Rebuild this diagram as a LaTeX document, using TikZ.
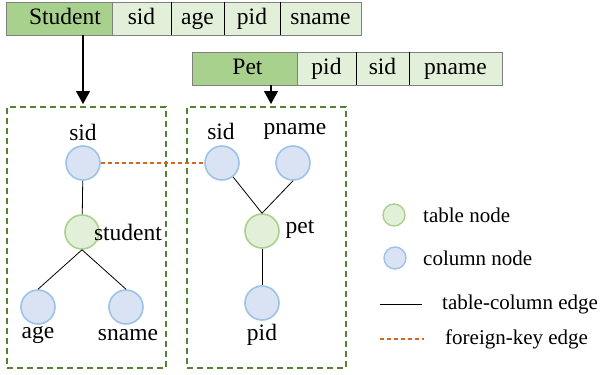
\documentclass[tikz,border=0pt]{standalone}
\usepackage{fontspec}
\setmainfont{Liberation Serif}
\usetikzlibrary{arrows.meta}
\definecolor{tdark}{HTML}{A9D18E}
\definecolor{tlight}{HTML}{E2F0D9}
\definecolor{cellborder}{HTML}{808080}
\definecolor{colborder}{HTML}{9DC3E6}
\definecolor{colfill}{HTML}{DAE3F3}
\definecolor{boxgreen}{HTML}{548235}
\definecolor{fkcol}{HTML}{D2691E}
\tikzset{
  tcell/.style={draw=cellborder, line width=0.8pt, minimum height=33pt, inner sep=0pt, text height=16pt, text depth=5pt, font=\fontsize{23.5}{28}\selectfont},
  darkcell/.style={tcell, fill=tdark},
  lightcell/.style={tcell, fill=tlight},
  colnode/.style={circle, draw=colborder, fill=colfill, line width=1.6pt, minimum size=34pt, inner sep=0pt},
  tabnode/.style={circle, draw=tdark, fill=tlight, line width=1.6pt, minimum size=34pt, inner sep=0pt},
  lcol/.style={colnode, minimum size=22pt, line width=1.4pt},
  ltab/.style={tabnode, minimum size=22pt, line width=1.4pt},
  grp/.style={draw=boxgreen, line width=1.2pt, dash pattern=on 6pt off 4pt, minimum width=159pt, minimum height=261pt, inner sep=0pt},
  fkedge/.style={draw=fkcol, line width=1.1pt, dash pattern=on 4pt off 3pt},
  tcedge/.style={draw=black, line width=0.8pt},
  arr/.style={draw=black, line width=1.2pt, -{Triangle[length=13pt, width=14pt]}},
  lbl/.style={font=\fontsize{23.5}{28}\selectfont, inner sep=0pt},
  leg/.style={font=\fontsize{21}{25}\selectfont, inner sep=0pt, anchor=west},
  divider/.style={draw=black, line width=0.9pt}
}
\begin{document}
\begin{tikzpicture}[x=1pt,y=-1pt]
\useasboundingbox (0,0) rectangle (600,375);
% Student table
\node[darkcell, minimum width=106pt] (tstu) at (59,18.5) {\hspace*{12pt}Student};
\node[lightcell, minimum width=59pt] (tsid) at (141.5,18.5) {sid};
\node[lightcell, minimum width=53pt] (tage) at (197.5,18.5) {age};
\node[lightcell, minimum width=56pt] (tpid) at (252,18.5) {pid};
\node[lightcell, minimum width=81pt] (tsname) at (320.5,18.5) {sname};
\draw[divider] (tsid.north east) -- (tsid.south east);
\draw[divider] (tage.north east) -- (tage.south east);
\draw[divider] (tpid.north east) -- (tpid.south east);
% Pet table
\node[darkcell, minimum width=105pt] (tpet) at (244.5,68.5) {\hspace*{6pt}Pet};
\node[lightcell, minimum width=59pt] (ppid) at (326.5,68.5) {pid};
\node[lightcell, minimum width=53pt] (psid) at (382.5,68.5) {sid};
\node[lightcell, minimum width=93pt] (ppname) at (455.5,68.5) {pname};
\draw[divider] (ppid.north east) -- (ppid.south east);
\draw[divider] (psid.north east) -- (psid.south east);
% group boxes
\node[grp] (lbox) at (86.5,237.5) {};
\node[grp] (rbox) at (266.5,237.5) {};
% arrows
\coordinate (a1s) at (83,35);
\coordinate (a1e) at (83,104);
\coordinate (a2s) at (271,85);
\coordinate (a2e) at (271,104);
\draw[arr] (a1s) -- (a1e);
\draw[arr] (a2s) -- (a2e);
% student graph
\node[colnode] (s1) at (83,163) {};
\node[tabnode] (stu) at (82,232) {};
\node[colnode] (age) at (38,307) {};
\node[colnode] (sname) at (126,307) {};
\node[lbl] (ls1) at (83,132) {sid};
\node[lbl] (lstu) at (128,232) {student};
\node[lbl] (lage) at (38,335) {age};
\node[lbl] (lsname) at (128,335) {sname};
% pet graph
\node[colnode] (s2) at (222,163) {};
\node[colnode] (pn) at (293,163) {};
\node[tabnode] (pet) at (262,231) {};
\node[colnode] (pid) at (262,303) {};
\node[lbl] (ls2) at (221,131) {sid};
\node[lbl] (lpn) at (295,131) {pname};
\node[lbl] (lpet) at (300,229) {pet};
\node[lbl] (lpid) at (262,335) {pid};
% edges
\draw[tcedge] (s1) -- (stu);
\draw[tcedge] (stu.south) -- (age.north);
\draw[tcedge] (stu.south) -- (sname.north);
\draw[tcedge] (pet.north) -- (s2);
\draw[tcedge] (pet.north) -- (pn.south);
\draw[tcedge] (pet) -- (pid);
\draw[fkedge] (s1.east) -- (s2.west);
% legend
\node[ltab] (lgt) at (394,215) {};
\node[leg] (lgtt) at (423,215) {table node};
\node[lcol] (lgc) at (395,258) {};
\node[leg] (lgct) at (423,258) {column node};
\coordinate (e1a) at (380,304);
\coordinate (e1b) at (422,304);
\draw[tcedge] (e1a) -- (e1b);
\node[leg] (lge1) at (442,304) {table-column edge};
\coordinate (e2a) at (380,339);
\coordinate (e2b) at (424,339);
\draw[fkedge] (e2a) -- (e2b);
\node[leg] (lge2) at (445,339) {foreign-key edge};
\end{tikzpicture}
\end{document}
